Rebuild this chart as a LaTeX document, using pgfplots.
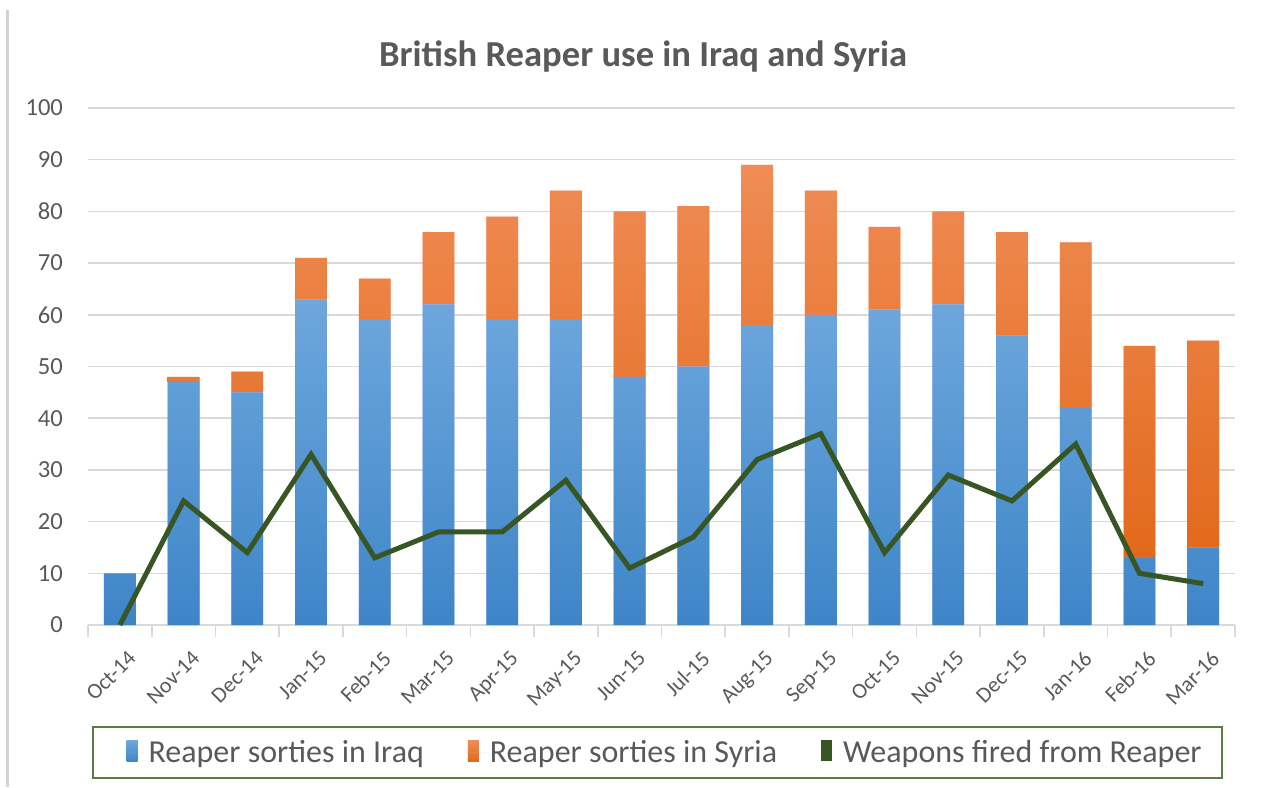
\documentclass[border=0pt]{standalone}
\usepackage{pgfplots}
\pgfplotsset{compat=1.18}
\usepackage{fontspec}
\setmainfont{Carlito}
\definecolor{txtgray}{HTML}{595959}
\definecolor{gridgray}{HTML}{D9D9D9}
\definecolor{iraqtop}{HTML}{6EA7DD}
\definecolor{iraqbot}{HTML}{3E85C8}
\definecolor{syrtop}{HTML}{F08C55}
\definecolor{syrbot}{HTML}{E2691B}
\definecolor{weap}{HTML}{375623}
\definecolor{legbox}{HTML}{5B7B45}
\pgfplotsset{
  common/.style={
    at={(0pt,0pt)}, anchor=south west,
    scale only axis, width=573.5pt, height=258.5pt,
    xmin=-0.5, xmax=17.5, ymin=0, ymax=100,
    clip=false,
  }
}
\begin{document}
\begin{tikzpicture}
\path[use as bounding box] (-44pt,-81pt) rectangle (587pt,312.5pt);
\draw[gray!35, line width=1.5pt] (-40pt,307.5pt) -- (-40pt,-81pt);
\begin{axis}[
  common,
  ybar stacked, bar width=0.5,
  xtick={0,...,17},
  xticklabels={Oct-14,Nov-14,Dec-14,Jan-15,Feb-15,Mar-15,Apr-15,May-15,Jun-15,Jul-15,Aug-15,Sep-15,Oct-15,Nov-15,Dec-15,Jan-16,Feb-16,Mar-16},
  minor xtick={-0.5,0.5,...,17.5},
  major x tick style={draw=none},
  minor x tick style={draw=gridgray, thick},
  xtick align=outside, minor tick length=6pt,
  ytick={0,10,...,100},
  ymajorgrids, major grid style={draw=gridgray, line width=0.8pt},
  ytick style={draw=none},
  axis x line*=bottom, axis y line*=left,
  y axis line style={draw=none},
  x axis line style={draw=gridgray, line width=0.8pt, -},
  /pgf/number format/assume math mode=true,
  tick label style={text=txtgray},
  x tick label style={font=\fontsize{11}{13}\selectfont, rotate=45, anchor=north east, inner sep=1pt, yshift=-7pt, xshift=-2pt},
  y tick label style={font=\fontsize{12.3}{14}\selectfont, xshift=-9pt},
  legend style={at={(0.504,-0.2466)}, anchor=center, draw=none, fill=none,
    font=\fontsize{16}{19}\selectfont, text=txtgray,
    /tikz/every even column/.append style={column sep=20pt}},
  legend columns=3,
]
\addplot+[draw=none, top color=iraqtop, bottom color=iraqbot,
  legend image code/.code={\fill[iraqtop!80!iraqbot] (0pt,-4.5pt) rectangle (5.5pt,6pt); \path[draw=none] (0pt,0pt) -- (9pt,0pt);}]
  coordinates {(0,10) (1,47) (2,45) (3,63) (4,59) (5,62) (6,59) (7,59) (8,48) (9,50) (10,58) (11,60) (12,61) (13,62) (14,56) (15,42) (16,13) (17,15)};
\addlegendentry{Reaper sorties in Iraq}
\addplot+[draw=none, top color=syrtop, bottom color=syrbot,
  legend image code/.code={\fill[syrtop!60!syrbot] (0pt,-4.5pt) rectangle (5.5pt,6pt); \path[draw=none] (0pt,0pt) -- (9pt,0pt);}]
  coordinates {(0,0) (1,1) (2,4) (3,8) (4,8) (5,14) (6,20) (7,25) (8,32) (9,31) (10,31) (11,24) (12,16) (13,18) (14,20) (15,32) (16,41) (17,40)};
\addlegendentry{Reaper sorties in Syria}
\addlegendimage{draw=none, legend image code/.code={\fill[weap] (0pt,-4.5pt) rectangle (5.5pt,6pt); \path[draw=none] (0pt,0pt) -- (9pt,0pt);}}
\addlegendentry{Weapons fired from Reaper}
\draw[legbox, line width=1pt] (axis description cs:0.00436,-0.1973) rectangle (axis description cs:0.98867,-0.2959);
\node[font=\bfseries\fontsize{18.3}{22}\selectfont, text=txtgray] at (axis description cs:0.484,1.099) {British Reaper use in Iraq and Syria};
\end{axis}
\begin{axis}[
  common,
  axis lines=none, xtick=\empty, ytick=\empty,
]
\addplot[sharp plot, no markers, weap, line width=2.5pt, line join=miter]
  coordinates {(0,0) (1,24) (2,14) (3,33) (4,13) (5,18) (6,18) (7,28) (8,11) (9,17) (10,32) (11,37) (12,14) (13,29) (14,24) (15,35) (16,10) (17,8)};
\end{axis}
\end{tikzpicture}
\end{document}
